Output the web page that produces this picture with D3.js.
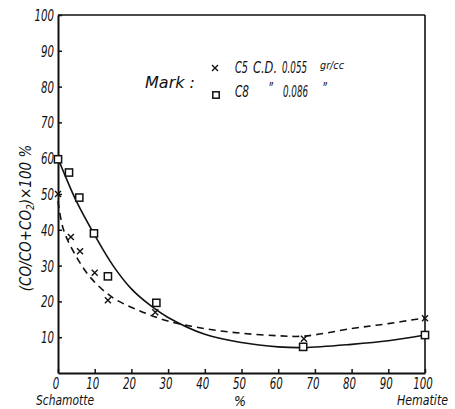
<!DOCTYPE html>
<html>
<head>
<meta charset="utf-8">
<script src="https://cdn.jsdelivr.net/npm/d3@7"></script>
<style>
  body { margin: 0; background: #fff; }
  text { font-family: "DejaVu Sans", sans-serif; font-stretch: condensed; font-style: italic; fill: #111; }
</style>
</head>
<body>
<div id="chart"></div>
<script>
// C5 (crosses) and C8 (squares): x = % hematite, y = CO/(CO+CO2) x 100
const c5X = [0, 3.5, 6, 10, 13.6, 26.5, 67, 100];
const c5Y = [50, 38, 34, 28, 20.3, 17, 9.6, 15.3];
const c8X = [0, 3, 5.8, 9.8, 13.6, 26.8, 66.8, 100];
const c8Y = [59.7, 56, 49, 39, 27, 19.6, 7.3, 10.6];

// hand-drawn fit curves
const solidX = [0, 2, 5, 10, 15, 20, 25, 30, 40, 50, 60, 67, 80, 90, 100];
const solidY = [60, 55, 48, 38.5, 30, 23.5, 19, 15.5, 10.8, 8.5, 7.3, 7.1, 8, 9, 10.6];
const dashX = [0, 1.5, 5, 9, 15, 22, 30, 40, 50, 60, 67, 80, 90, 100];
const dashY = [48, 40, 32.5, 26.5, 21, 17.5, 14.5, 12.4, 11.1, 10.4, 10.3, 12.4, 13.8, 15.4];

const xTicks = [0, 10, 20, 30, 40, 50, 60, 70, 80, 90, 100];
const yTicks = [10, 20, 30, 40, 50, 60, 70, 80, 90, 100];

const W = 455, H = 409;
const svg = d3.select('#chart').append('svg')
    .attr('width', W).attr('height', H);

const x = d3.scaleLinear().domain([0, 100]).range([58, 425]);
const y = d3.scaleLinear().domain([0, 100]).range([373, 15]);

// frame
svg.append('line').attr('x1', x(0)).attr('x2', x(100)).attr('y1', y(100)).attr('y2', y(100))
    .attr('stroke', '#111').attr('stroke-width', 1.6);
svg.append('line').attr('x1', x(100)).attr('x2', x(100)).attr('y1', y(100)).attr('y2', y(0))
    .attr('stroke', '#111').attr('stroke-width', 1.6);

// axes, ticks pointing inward
const xAxis = svg.append('g')
    .attr('transform', `translate(0,${y(0)})`)
    .call(d3.axisTop(x).tickValues(xTicks).tickSize(4).tickSizeOuter(0).tickFormat(''));
const yAxis = svg.append('g')
    .attr('transform', `translate(${x(0)},0)`)
    .call(d3.axisRight(y).tickValues(yTicks).tickSize(4).tickSizeOuter(0).tickFormat(''));
[xAxis, yAxis].forEach(a => {
    a.select('.domain').attr('stroke', '#111').attr('stroke-width', 2);
    a.selectAll('.tick line').attr('stroke', '#111').attr('stroke-width', 1.5);
});

// tick labels (narrow, like the hand lettering)
svg.selectAll('.xlab').data(xTicks).enter().append('text')
    .attr('x', d => x(d) - 2).attr('y', 389)
    .attr('text-anchor', 'middle').attr('font-size', 16)
    .attr('textLength', d => String(d).length * 6.5).attr('lengthAdjust', 'spacingAndGlyphs')
    .text(d => d);
svg.selectAll('.ylab').data(yTicks).enter().append('text')
    .attr('x', x(0) - 4).attr('y', d => y(d) + 6)
    .attr('text-anchor', 'end').attr('font-size', 16)
    .attr('textLength', d => String(d).length * 6.5).attr('lengthAdjust', 'spacingAndGlyphs')
    .text(d => d);

svg.append('text').attr('x', 36).attr('y', 405)
    .attr('font-size', 14).attr('textLength', 58).attr('lengthAdjust', 'spacingAndGlyphs')
    .text('Schamotte');
svg.append('text').attr('x', 240).attr('y', 406).attr('text-anchor', 'middle')
    .attr('font-size', 14).text('%');
svg.append('text').attr('x', 397).attr('y', 405)
    .attr('font-size', 14).attr('textLength', 51).attr('lengthAdjust', 'spacingAndGlyphs')
    .text('Hematite');

// y label
const yl = svg.append('text')
    .attr('transform', 'translate(31,218) rotate(-90)')
    .attr('text-anchor', 'middle').attr('font-size', 15);
yl.append('tspan').text('(CO/CO+CO');
yl.append('tspan').attr('font-size', 10).attr('dy', 3).text('2');
yl.append('tspan').attr('dy', -3).text(')×100  %');

// curves
const line = d3.line().curve(d3.curveCatmullRom.alpha(0.5))
    .x(d => x(d[0])).y(d => y(d[1]));
svg.append('path').datum(solidX.map((v, i) => [v, solidY[i]]))
    .attr('d', line).attr('fill', 'none').attr('stroke', '#111').attr('stroke-width', 1.6);
svg.append('path').datum(dashX.map((v, i) => [v, dashY[i]]))
    .attr('d', line).attr('fill', 'none').attr('stroke', '#111').attr('stroke-width', 1.6)
    .attr('stroke-dasharray', '7,5');

// markers
function cross(g, cx, cy, s) {
    g.append('path')
        .attr('d', `M${cx - s},${cy - s}L${cx + s},${cy + s}M${cx - s},${cy + s}L${cx + s},${cy - s}`)
        .attr('stroke', '#111').attr('stroke-width', 1.4);
}
function square(g, cx, cy, s) {
    g.append('rect').attr('x', cx - s).attr('y', cy - s).attr('width', 2 * s).attr('height', 2 * s)
        .attr('fill', '#fff').attr('stroke', '#111').attr('stroke-width', 1.5);
}
const marks = svg.append('g');
c5X.forEach((v, i) => cross(marks, x(v), y(c5Y[i]), 3));
c8X.forEach((v, i) => square(marks, x(v), y(c8Y[i]), 3.6));

// legend
function label(tx, ty, str, len, size) {
    svg.append('text').attr('x', tx).attr('y', ty).attr('font-size', size || 15)
        .attr('textLength', len).attr('lengthAdjust', 'spacingAndGlyphs').text(str);
}
label(145, 88, 'Mark :', 50);
cross(svg, 215, 68, 3);
square(svg, 216, 95, 3.2);
label(235, 73, 'C5', 13);
label(253, 73, 'C.D.', 24);
label(282, 73, '0.055', 25);
label(320, 69, 'gr/cc', 24, 11);
label(235, 97, 'C8', 14);
label(268, 94, '\u201D', 5);
label(283, 97, '0.086', 25);
label(322, 94, '\u201D', 5);
</script>
</body>
</html>
